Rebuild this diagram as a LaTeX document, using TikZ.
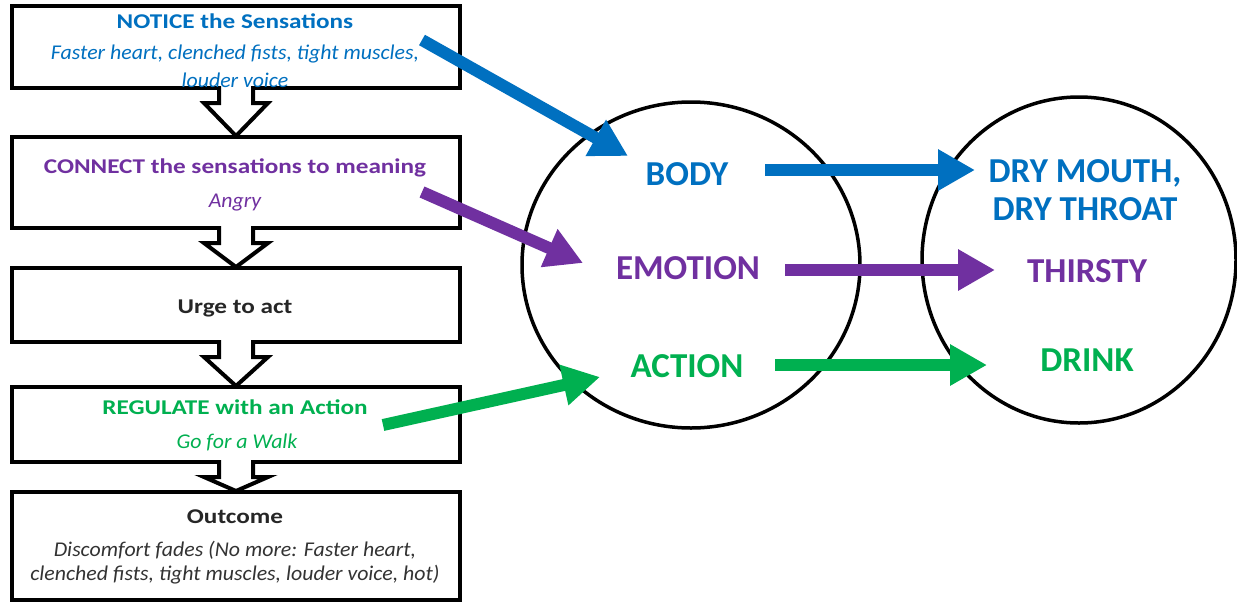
\documentclass[tikz,border=0pt]{standalone}
\usepackage{fontspec}
\usepackage{graphicx}
\setmainfont{Carlito}
\usetikzlibrary{arrows.meta,calc,shapes.geometric}
\definecolor{cblue}{HTML}{0070C0}
\definecolor{cpurple}{HTML}{7030A0}
\definecolor{cgreen}{HTML}{00B050}
\newcommand\wideT[1]{\scalebox{1.2}[1]{#1}}
\newcommand\wideS[1]{\scalebox{1.04}[1]{#1}}
\newcommand\blkarrow[2]{%
  \path[blk] let \p1=(#1.south), \p2=(#2.north) in
  (\x1-17,\y1+4) -- (\x1-17,\y1-13) -- (\x1-32,\y1-13) -- (\x1,\y2-1)
  -- (\x1+32,\y1-13) -- (\x1+17,\y1-13) -- (\x1+17,\y1+4);}
\begin{document}
\begin{tikzpicture}[x=1pt,y=-1pt,
  box/.style={draw=black,line width=4pt,minimum width=448pt,inner sep=0pt,fill=white},
  ttl/.style={font=\fontsize{21}{25}\selectfont\bfseries,inner sep=0pt},
  sub/.style={font=\fontsize{21}{27}\selectfont\itshape,inner sep=0pt,align=center},
  big/.style={font=\fontsize{35}{38}\selectfont\bfseries,inner sep=0pt,align=center},
  blk/.style={draw=black,fill=white,line width=4pt,line join=miter},
  fat/.style={line width=12pt,-{Triangle[length=37pt,width=39pt]}},
  ring/.style={ellipse,draw=black,line width=3.5pt,inner sep=0pt}
]
\useasboundingbox (0,0) rectangle (1237,603);
\fill[white] (0,0) rectangle (1237,603);

% boxes
\node[box,minimum height=82pt]  (b1) at (236,47) {};
\node[box,minimum height=91pt]  (b2) at (236,182.5) {};
\node[box,minimum height=74pt]  (b3) at (236,305) {};
\node[box,minimum height=75pt]  (b4) at (236,424.5) {};
\node[box,minimum height=108pt] (b5) at (236,546) {};

\blkarrow{b1}{b2}
\blkarrow{b2}{b3}
\blkarrow{b3}{b4}
\blkarrow{b4}{b5}

% box texts
\node[ttl,text=cblue] (t1) at (235,21) {\wideT{NOTICE the Sensations}};
\node[sub,text=cblue] (s1a) at (235,54) {\wideS{Faster heart, clenched fists, tight muscles,}};
\node[sub,text=cblue] (s1b) at (235,80) {\wideS{louder voice}};
\node[ttl,text=cpurple] (t2) at (235,168) {\wideT{CONNECT the sensations to meaning}};
\node[sub,text=cpurple] (s2) at (235,203) {\wideS{Angry}};
\node[ttl,text=black!85] (t3) at (235,308) {\wideT{Urge to act}};
\node[ttl,text=cgreen] (t4) at (235,407) {\wideT{REGULATE with an Action}};
\node[sub,text=cgreen] (s4) at (237,442) {\wideS{Go for a Walk}};
\node[ttl,text=black!85] (t5) at (235,517) {\wideT{Outcome}};
\node[sub,text=black!80] (s5a) at (235,550) {\wideS{Discomfort fades (No more: Faster heart,}};
\node[sub,text=black!80] (s5b) at (235,575) {\wideS{clenched fists, tight muscles, louder voice, hot)}};

% circles
\node[ring,minimum width=338pt,minimum height=326pt] (c1) at (691,265) {};
\node[ring,minimum width=314pt,minimum height=326pt] (c2) at (1079,260) {};

\node[big,text=cblue]   (body) at (687,174) {BODY};
\node[big,text=cpurple] (emo)  at (688,268) {EMOTION};
\node[big,text=cgreen]  (act)  at (687,366) {ACTION};

\node[big,text=cblue]   (dry)  at (1085,190) {DRY MOUTH,\\DRY THROAT};
\node[big,text=cpurple] (thi)  at (1087,271) {THIRSTY};
\node[big,text=cgreen]  (dri)  at (1087,360) {DRINK};

% connector end points
\coordinate (bs) at (422,40);   \coordinate (be) at (628,156);
\coordinate (ps) at (422,192);  \coordinate (pe) at (583,263);
\coordinate (gs) at (383,425);  \coordinate (ge) at (600,377);
\coordinate (bhs) at (765,170); \coordinate (bhe) at (975,170);
\coordinate (phs) at (785,270); \coordinate (phe) at (995,270);
\coordinate (ghs) at (775,365); \coordinate (ghe) at (987,365);

\draw[fat,cblue] (bs) -- (be);
\draw[fat,cpurple] (ps) -- (pe);
\draw[fat,cgreen] (gs) -- (ge);
\draw[fat,cblue] (bhs) -- (bhe);
\draw[fat,cpurple] (phs) -- (phe);
\draw[fat,cgreen] (ghs) -- (ghe);
\end{tikzpicture}
\end{document}
